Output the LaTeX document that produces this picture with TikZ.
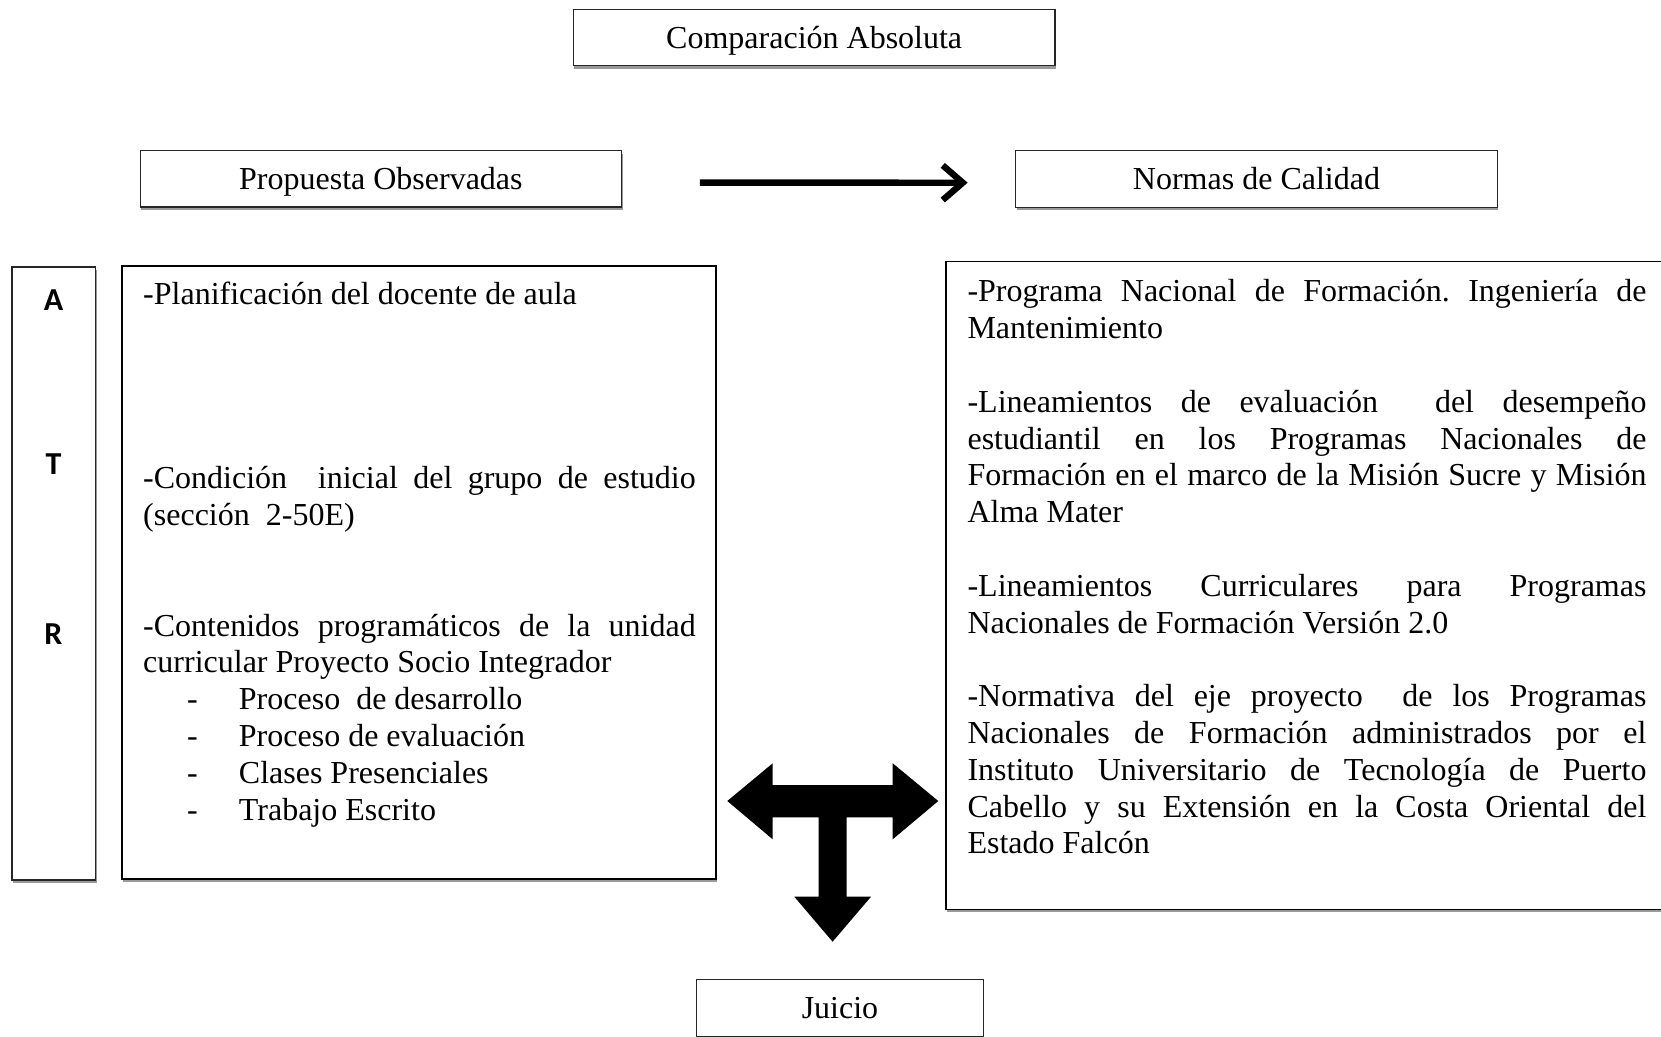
\documentclass[tikz,border=0pt]{standalone}
\usepackage{fontspec}
\setmainfont{Liberation Serif}
\newfontfamily\carl{Carlito}
\usetikzlibrary{arrows.meta,shadows}
\frenchspacing
\newcommand\jl[1]{\makebox[\linewidth][s]{#1}\par}
\newcommand\pl[1]{#1\par}
\newcommand\blankline{\mbox{}\par}
\newcommand\litem[1]{\hspace*{16.5pt}\makebox[19.4pt][l]{-}#1\par}
\tikzset{
 boxbase/.style={draw=black!85, line width=0.45pt, fill=white,
   general shadow={fill=black!40, shadow xshift=0.3pt, shadow yshift=-1.1pt}, inner sep=0pt},
 titlebox/.style={boxbase, minimum height=21.15pt, text height=7.9pt, text depth=0pt,
   font=\fontsize{12pt}{13.8pt}\selectfont},
 bigbox/.style={boxbase, draw=black, line width=0.7pt},
 letter/.style={inner sep=0pt, anchor=base, font=\carl\bfseries\fontsize{12pt}{14pt}\selectfont},
 body/.style={inner sep=0pt, anchor=base west, font=\fontsize{12pt}{13.8pt}\selectfont},
 flow/.style={line width=2.4pt, -{Straight Barb[length=7.5pt,width=13pt,line width=2.4pt]}},
 blockarrow/.style={fill=black, draw=none}
}
\begin{document}
\begin{tikzpicture}[x=0.375pt,y=-0.375pt]
\useasboundingbox (0,0) rectangle (1661,1037);

% header boxes
\node[titlebox, minimum width=180.6pt] (comp) at (814.2,37.5) {Comparación Absoluta};
\node[titlebox, minimum width=180.6pt] (prop) at (380.9,178.9) {Propuesta Observadas};
\node[titlebox, minimum width=180.6pt] (norm) at (1256.5,179) {Normas de Calidad};
\node[titlebox, minimum width=107.5pt, minimum height=21.3pt] (juic) at (840,1007.7) {Juicio};

% arrow between Propuesta and Normas
\draw[flow, shorten <=29.1pt, shorten >=17.8pt]
  ([yshift=-1.4pt]prop.east) -- ([yshift=-1.4pt]norm.west);

% ATR column
\node[boxbase, minimum width=31.4pt, minimum height=229.9pt] (atr) at (53.85,573.5) {};
\node[letter] (la) at (53.5,311) {A};
\node[letter] (lt) at (53.5,475) {T};
\node[letter] (lr) at (53.5,645) {R};

% left content box
\node[bigbox, minimum width=222.75pt, minimum height=230pt] (lbox) at (418.7,572.65) {};
\node[body] (ltext) at (142.7,305) {\parbox[t]{207.2pt}{%
\pl{-Planificación del docente de aula}
\blankline\blankline\blankline\blankline
\jl{-Condición\ \ inicial del grupo de estudio}
\pl{(sección\ \ 2-50E)}
\blankline\blankline
\jl{-Contenidos programáticos de la unidad}
\pl{curricular Proyecto Socio Integrador}
\litem{Proceso\ \ de desarrollo}
\litem{Proceso de evaluación}
\litem{Clases Presenciales}
\litem{Trabajo Escrito}}};

% right content box
\node[bigbox, line width=0.6pt, minimum width=275.25pt, minimum height=242.85pt] (rbox) at (1313,585.5) {};
\node[body] (rtext) at (967,302) {\parbox[t]{254.6pt}{%
\jl{-Programa Nacional de Formación. Ingeniería de}
\pl{Mantenimiento}
\blankline
\jl{-Lineamientos de evaluación\ \ del desempeño}
\jl{estudiantil en los Programas Nacionales de}
\jl{Formación en el marco de la Misión Sucre y Misión}
\pl{Alma Mater}
\blankline
\jl{-Lineamientos Curriculares para Programas}
\pl{Nacionales de Formación Versión 2.0}
\blankline
\jl{-Normativa del eje proyecto\ \ de los Programas}
\jl{Nacionales de Formación administrados por el}
\jl{Instituto Universitario de Tecnología de Puerto}
\jl{Cabello y su Extensión en la Costa Oriental del}
\pl{Estado Falcón}}};

% T-shaped block arrow
\fill[blockarrow] (727.3,801) -- (772.7,763.3) -- (772.7,785) -- (892.7,785) -- (892.7,763.3)
  -- (938.3,801) -- (892.7,839.3) -- (892.7,817.3) -- (846.5,817.3) -- (846.5,896.7)
  -- (871,896.7) -- (832.6,941.7) -- (794.3,896.7) -- (818.5,896.7) -- (818.5,817.3)
  -- (772.7,817.3) -- (772.7,839.3) -- cycle;
\end{tikzpicture}
\end{document}
